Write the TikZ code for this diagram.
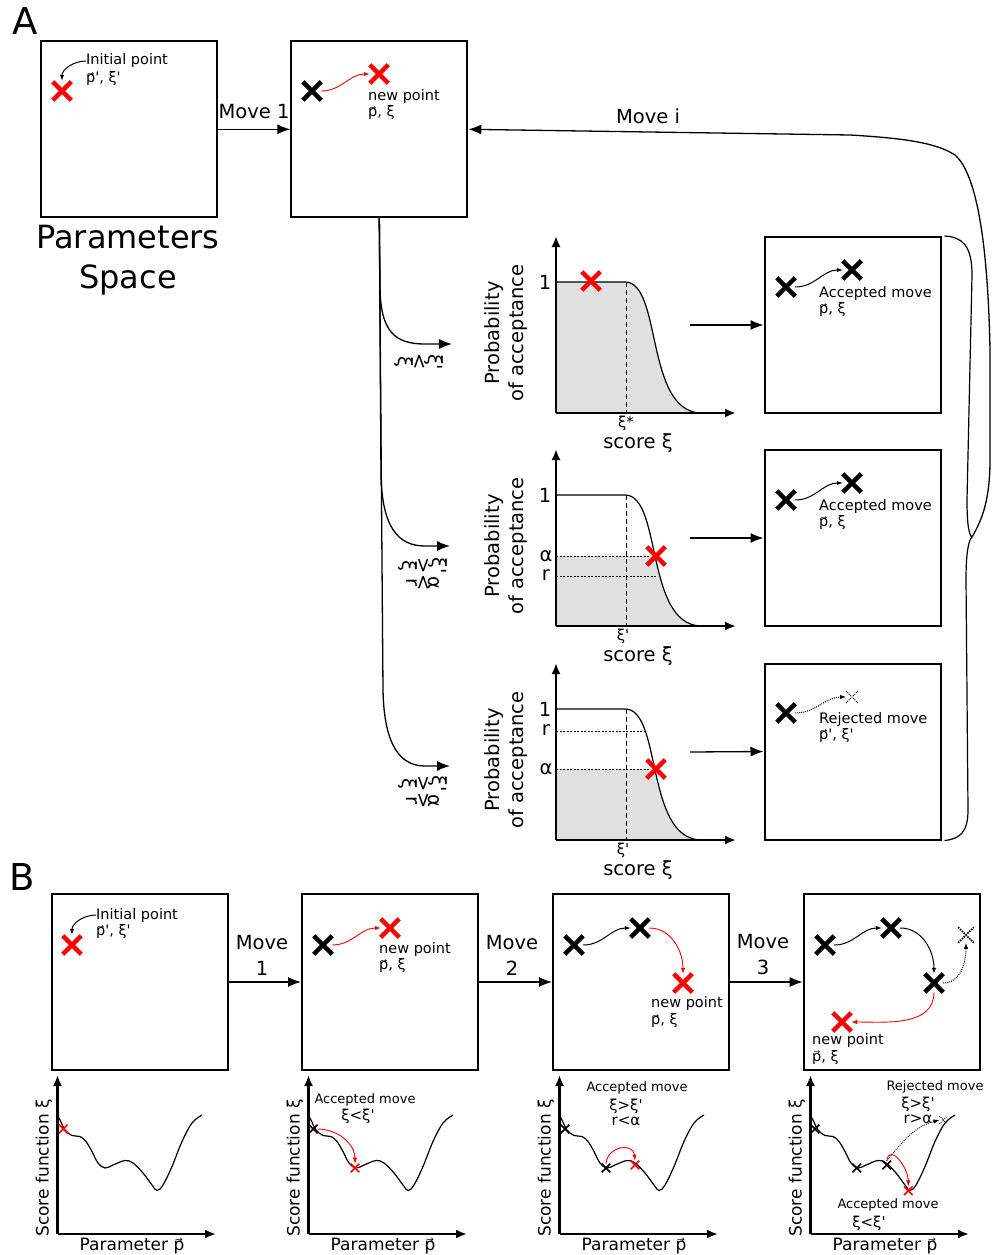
\documentclass[tikz,border=0pt]{standalone}
\usepackage{fontspec}
\setmainfont{DejaVu Sans}
\usepackage{graphicx}
\usetikzlibrary{arrows.meta,shapes.misc}

\newcommand{\fs}[2]{\fontsize{#1}{#2}\selectfont}
\newcommand{\pv}{\leavevmode\hbox{\makebox[0pt][l]{\kern0.1em\raisebox{0.45em}{\scalebox{0.55}[0.5]{→}}}p}}
\newcommand{\pr}{\textquotesingle}
\newcommand{\rg}[1]{\rotatebox[origin=c]{-90}{#1}}

\tikzset{
  panel/.style={draw, line width=2pt, minimum width=176pt, minimum height=176pt, inner sep=0pt},
  bigarr/.style={-{Latex[length=13pt,width=10pt]}, line width=1.3pt},
  smallarr/.style={-{Latex[length=6pt,width=4.5pt]}, line width=1pt},
  axis/.style={-{Latex[length=11pt,width=9pt]}, line width=2.2pt},
  xmark/.style={cross out, draw=black, line width=4.5pt, minimum size=14pt, inner sep=0pt},
  redx/.style={xmark, draw=red},
  tinyx/.style={cross out, draw=black, line width=1.6pt, minimum size=7pt, inner sep=0pt},
  dotx/.style={cross out, draw=black, densely dotted, line width=1pt, minimum size=11pt, inner sep=0pt},
  txt/.style={font=\fs{19.5}{24}, inner sep=0pt},
  note/.style={font=\fs{14.5}{17}, anchor=west, inner sep=0pt},
  small/.style={font=\fs{13}{15}, inner sep=0pt},
  fine/.style={dash pattern=on 2pt off 1.5pt, line width=0.8pt},
}

\newcommand{\accplot}[3]{%
  % #1=name, #2=y shift, #3=top of grey area
  \begin{scope}[shift={(0,#2)}]
    \begin{scope}
      \clip (556,#3) rectangle (740,-413);
      \fill[black!12] (556,-413) -- (556,-282) -- (625,-282)
        .. controls (662,-282) and (645,-410) .. (700,-413) -- cycle;
    \end{scope}
    \draw[line width=1.2pt] (556,-282) -- (625,-282)
      .. controls (662,-282) and (645,-410) .. (700,-413) -- (728,-413);
    \draw[dash pattern=on 5pt off 3pt, line width=0.8pt] (626,-282) -- (626,-413);
    \draw[axis] (556,-413) -- (556,-236);
    \draw[axis] (556,-413) -- (736,-413);
    \node[txt] (#1one) at (545,-282) {1};
    \node[txt, align=center, rotate=90] (#1yl) at (506,-333) {Probability\\of acceptance};
    \node[txt] (#1xl) at (638,-443) {score ξ};
  \end{scope}}

\newcommand{\scoreplot}[2]{%
  % #1=name, #2=x shift
  \begin{scope}[shift={(#2,0)}]
    \draw[line width=1.2pt] plot[smooth, tension=0.6] coordinates {
      (57,-1115) (60,-1120) (65,-1130) (72,-1135.5) (80,-1136.5) (86,-1141.5)
      (92,-1151.5) (98,-1163) (105,-1168) (113,-1165) (125,-1160.5) (133,-1163)
      (143,-1173) (152,-1185) (157,-1190.5) (163,-1185) (172,-1166.5)
      (182,-1141.5) (192,-1123) (202,-1115)};
    \draw[axis] (57.5,-1234) -- (57.5,-1075);
    \draw[axis] (57.5,-1234) -- (216,-1234);
    \node[font=\fs{17}{20}, rotate=90, inner sep=0pt] (#1yl) at (44,-1168) {Score function ξ};
    \node[font=\fs{17}{20}, inner sep=0pt] (#1xl) at (132,-1246) {Parameter \pv};
  \end{scope}}

\begin{document}
\begin{tikzpicture}[x=1pt,y=1pt]
\useasboundingbox (0,0) rectangle (992,-1255);

% ---- Panel A ----
\node[font=\fs{37}{40}, inner sep=0pt] (labA) at (25,-21) {A};
\node[panel] (a1) at (128.5,-129.3) {};
\node[panel] (a2) at (379.3,-129.3) {};
\node[font=\fs{32}{40}, align=center, inner sep=0pt] (pspace) at (128,-260) {Parameters\\Space};

% initial point
\node[redx] (ip) at (62,-91) {};
\node[note] (iptxt) at (86,-61) {Initial point};
\node[note] (ipval) at (86,-79) {\pv\pr, ξ\pr};
\draw[smallarr, shorten >=1pt] (iptxt.west) to[out=180,in=90] (ip.north);

% first move
\draw[bigarr] (a1.east) -- (a2.west);
\node[txt] (mv1) at (254,-112) {Move 1};
\node[xmark] (p0) at (312,-91) {};
\node[redx] (p1) at (379,-74) {};
\draw[smallarr, red, line width=0.9pt] (p0.east) to[out=0,in=180] (p1.west);
\node[note] (nptxt) at (368,-96) {new point};
\node[note] (npval) at (368,-113) {\pv, ξ};

% ---- acceptance cases ----
\coordinate (c1) at (452,-344);
\coordinate (c2) at (450,-546);
\coordinate (c3) at (450,-766);
\draw[bigarr] (a2.south) -- (380,-285) .. controls (380,-332) and (395,-344) .. (425,-344) -- (c1);
\draw[bigarr] (a2.south) -- (381,-475) .. controls (382,-527) and (398,-546) .. (425,-546) -- (c2);
\draw[bigarr] (a2.south) -- (383,-690) .. controls (384,-745) and (400,-766) .. (425,-766) -- (c3);
\node[txt] (c1lab) at (419,-362) {\rg{ξ}\rg{<}\rg{ξ\pr}};
\node[txt, align=center, font=\fs{19.5}{17}] (c2lab) at (423,-574) {\rg{ξ}\rg{>}\rg{ξ\pr}\\\rg{r}\rg{<}\rg{α}};
\node[txt, align=center, font=\fs{19.5}{17}] (c3lab) at (423,-792) {\rg{ξ}\rg{>}\rg{ξ\pr}\\\rg{r}\rg{>}\rg{α}};

\accplot{ga}{0}{-282}
\accplot{gb}{-213}{-343}
\accplot{gc}{-427}{-342}

\node[redx] (gax) at (591,-281) {};
\node[font=\fs{15}{17}, inner sep=0pt] (gaxi) at (626,-423) {ξ*};

\draw[fine] (556,-556) -- (650,-556);
\draw[fine] (556,-576) -- (657,-576);
\node[txt] (gbal) at (546,-556) {α};
\node[txt] (gbr) at (546,-575) {r};
\node[redx] (gbx) at (656,-556) {};
\node[font=\fs{15}{17}, inner sep=0pt] (gbxi) at (623,-636) {ξ\pr};

\draw[fine] (556,-731) -- (645,-731);
\draw[fine] (556,-769) -- (650,-769);
\node[txt] (gcr) at (546,-730) {r};
\node[txt] (gcal) at (546,-769) {α};
\node[redx] (gcx) at (656,-769) {};
\node[font=\fs{15}{17}, inner sep=0pt] (gcxi) at (623,-850) {ξ\pr};

% ---- outcomes ----
\node[panel] (r1) at (852.5,-325) {};
\node[panel] (r2) at (852.5,-538) {};
\node[panel] (r3) at (852.5,-751.5) {};
\coordinate (g1) at (690,-325);
\coordinate (g2) at (690,-538);
\coordinate (g3) at (690,-752);
\draw[bigarr] (g1) -- (r1.west);
\draw[bigarr] (g2) -- (r2.west);
\draw[bigarr] (g3) -- (r3.west);

\node[xmark] (r1a) at (786,-287) {};
\node[xmark] (r1b) at (852,-270) {};
\draw[smallarr] (r1a.east) to[out=0,in=180] (r1b.west);
\node[note] (r1t) at (819,-293) {Accepted move};
\node[note] (r1v) at (819,-310) {\pv, ξ};

\node[xmark] (r2a) at (786,-500) {};
\node[xmark] (r2b) at (852,-483) {};
\draw[smallarr] (r2a.east) to[out=0,in=180] (r2b.west);
\node[note] (r2t) at (819,-506) {Accepted move};
\node[note] (r2v) at (819,-523) {\pv, ξ};

\node[xmark] (r3a) at (786,-713) {};
\node[dotx] (r3b) at (852,-697) {};
\draw[smallarr, densely dotted] (r3a.east) to[out=0,in=180] (r3b.west);
\node[note] (r3t) at (819,-719) {Rejected move};
\node[note] (r3v) at (819,-736) {\pv\pr, ξ\pr};

% brace and loop back
\coordinate (bt) at (972,-537);
\draw[line width=1.2pt] ([xshift=3pt]r1.north east) .. controls (962,-237) and (972,-245) .. (972,-275)
  -- (967,-500) .. controls (967,-525) and (969,-535) .. (bt);
\draw[line width=1.2pt] (bt) .. controls (969,-540) and (966,-550) .. (966,-580)
  -- (968,-810) .. controls (968,-832) and (960,-839) .. ([xshift=3pt]r3.south east);
\draw[bigarr] (bt) .. controls (982,-520) and (990,-500) .. (990,-460) -- (990,-350)
  .. controls (988,-250) and (978,-175) .. (955,-155)
  .. controls (935,-142) and (900,-138) .. (850,-135) -- (a2.east);
\node[txt] (mvi) at (648,-116) {Move i};

% ---- Panel B ----
\node[font=\fs{37}{40}, inner sep=0pt] (labB) at (22,-877) {B};
\node[panel] (b1) at (139.5,-982) {};
\node[panel] (b2) at (390,-982) {};
\node[panel] (b3) at (641,-982) {};
\node[panel] (b4) at (891.7,-982) {};
\draw[bigarr] (b1.east) -- (b2.west);
\draw[bigarr] (b2.east) -- (b3.west);
\draw[bigarr] (b3.east) -- (b4.west);
\node[txt, align=center, font=\fs{19.5}{26}] (bm1) at (262,-955) {Move\\1};
\node[txt, align=center, font=\fs{19.5}{26}] (bm2) at (512,-955) {Move\\2};
\node[txt, align=center, font=\fs{19.5}{26}] (bm3) at (763,-955) {Move\\3};

% box 1
\node[redx] (q0) at (72,-945) {};
\node[note] (q0t) at (96,-915) {Initial point};
\node[note] (q0v) at (96,-932) {\pv\pr, ξ\pr};
\draw[smallarr, shorten >=1pt] (q0t.west) to[out=180,in=90] (q0.north);

% box 2
\node[xmark] (s0) at (323,-945) {};
\node[redx] (s1) at (390,-928) {};
\draw[smallarr, red, line width=0.9pt] (s0.east) to[out=0,in=180] (s1.west);
\node[note] (s1t) at (379,-949) {new point};
\node[note] (s1v) at (379,-966) {\pv, ξ};

% box 3
\node[xmark] (t0) at (574,-945) {};
\node[xmark] (t1) at (640,-928) {};
\node[redx] (t2) at (683,-983) {};
\draw[smallarr] (t0.east) to[out=0,in=180] (t1.west);
\draw[smallarr, red, line width=0.9pt] (t1.east) to[out=0,in=90] (t2.north);
\node[note] (t2t) at (651,-1003) {new point};
\node[note] (t2v) at (651,-1021) {\pv, ξ};

% box 4
\node[xmark] (u0) at (825,-945) {};
\node[xmark] (u1) at (891,-928) {};
\node[xmark] (u2) at (934,-983) {};
\node[dotx, minimum size=14pt, line width=1.6pt] (u3) at (966,-935) {};
\node[redx] (u4) at (842,-1022) {};
\draw[smallarr] (u0.east) to[out=0,in=180] (u1.west);
\draw[smallarr] (u1.east) to[out=0,in=90] (u2.north);
\draw[smallarr, densely dotted] (u2.east) to[out=0,in=-90] (u3.south);
\draw[smallarr, red, line width=0.9pt] (u2.south) to[out=-90,in=0] (u4.east);
\node[note] (u4t) at (812,-1040) {new point};
\node[note] (u4v) at (812,-1057) {\pv, ξ};

% ---- score landscapes ----
\scoreplot{sa}{0}
\scoreplot{sb}{251}
\scoreplot{sc}{502}
\scoreplot{sd}{753}

\node[tinyx, draw=red] (sax) at (63.3,-1129) {};

\node[tinyx] (sbx0) at (313.3,-1129) {};
\node[tinyx, draw=red] (sbx1) at (355,-1168) {};
\draw[smallarr, red, line width=0.9pt] (sbx0.east) to[out=0,in=90] (sbx1.north);
\node[small] (sbt) at (365,-1100) {Accepted move};
\node[font=\fs{15}{17}, inner sep=0pt] (sbc) at (358,-1116) {ξ<ξ\pr};

\node[tinyx] (scx0) at (565,-1129) {};
\node[tinyx] (scx1) at (606,-1168) {};
\node[tinyx, draw=red] (scx2) at (635,-1165) {};
\draw[smallarr, red, line width=0.9pt] (scx1.north) to[out=85,in=95,looseness=1.6] (scx2.north);
\node[small] (sct) at (637,-1088) {Accepted move};
\node[font=\fs{15}{15}, align=center, inner sep=0pt] (scc) at (626,-1112) {ξ>ξ\pr\\r<α};

\node[tinyx] (sdx0) at (815,-1129) {};
\node[tinyx] (sdx1) at (856.7,-1168) {};
\node[tinyx] (sdx2) at (886.7,-1165) {};
\node[tinyx, draw=red] (sdx3) at (908.3,-1190.7) {};
\node[cross out, draw, densely dotted, line width=0.8pt, minimum size=7pt, inner sep=0pt] (sdx4) at (943.3,-1120) {};
\draw[smallarr, red, line width=0.9pt] (sdx2.north) to[out=80,in=90,looseness=1.4] (sdx3.north);
\draw[smallarr, densely dotted, line width=0.8pt] (sdx2.north) to[out=50,in=195] (sdx4.west);
\node[small] (sdt) at (935,-1087) {Rejected move};
\node[font=\fs{15}{15}, align=center, inner sep=0pt] (sdc) at (918,-1110) {ξ>ξ\pr\\r>α};
\node[small] (sdt2) at (888,-1205) {Accepted move};
\node[font=\fs{15}{17}, inner sep=0pt] (sdc2) at (869,-1223) {ξ<ξ\pr};

\end{tikzpicture}
\end{document}
